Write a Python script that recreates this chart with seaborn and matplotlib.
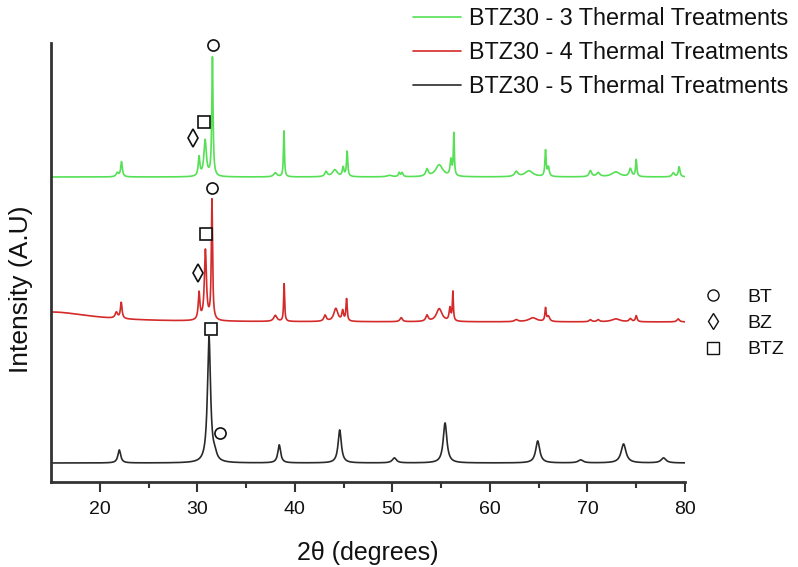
import numpy as np
import pandas as pd
import matplotlib
matplotlib.use("Agg")
import matplotlib.pyplot as plt
from matplotlib.lines import Line2D
import seaborn as sns

# ---- diffraction data: peak tables (2-theta position, height, FWHM) ----
# BTZ30 - 3 thermal treatments
t3_pos = [21.8, 22.23, 30.18, 30.8, 31.55, 38.0, 38.88, 43.2, 44.1, 44.95, 45.36,
          49.7, 50.7, 51.0, 53.55, 54.8, 56.0, 56.3, 62.7, 64.0, 65.7, 66.0,
          70.3, 71.1, 72.9, 74.4, 75.0, 78.8, 79.4]
t3_hgt = [4, 15, 19, 36, 119, 4, 46, 5, 7, 9, 25,
          1.5, 4, 4, 7, 12, 16, 42, 5, 6, 26, 9,
          6, 4, 5, 8, 17, 4, 10]
t3_fwhm = [0.3, 0.2, 0.2, 0.3, 0.15, 0.4, 0.12, 0.3, 0.6, 0.2, 0.15,
           0.6, 0.2, 0.2, 0.3, 0.9, 0.2, 0.12, 0.4, 1.0, 0.15, 0.2,
           0.3, 0.4, 1.0, 0.3, 0.15, 0.3, 0.2]
t3_base = 305

# BTZ30 - 4 thermal treatments
t4_pos = [15.0, 21.7, 22.2, 30.18, 30.83, 31.5, 38.0, 38.9, 43.1, 44.2, 44.9, 45.3,
          50.9, 53.55, 54.8, 55.9, 56.2, 62.7, 64.4, 65.7, 66.0,
          70.3, 71.1, 72.9, 74.4, 75.0, 79.3]
t4_hgt = [10, 6, 16, 27, 70, 120, 6, 38, 6, 13, 10, 22,
          4, 6, 13, 13, 29, 2, 4, 13, 5,
          2, 2, 3, 3, 6, 3]
t4_fwhm = [10.0, 0.3, 0.2, 0.2, 0.25, 0.15, 0.4, 0.12, 0.3, 0.5, 0.2, 0.15,
           0.3, 0.3, 0.7, 0.2, 0.12, 0.4, 1.0, 0.15, 0.3,
           0.3, 0.3, 1.0, 0.3, 0.2, 0.3]
t4_base = 160

# BTZ30 - 5 thermal treatments
t5_pos = [22.0, 31.2, 31.8, 38.4, 44.6, 50.2, 55.4, 64.9, 69.3, 73.7, 77.8]
t5_hgt = [13, 126, 6, 18, 33, 5, 40, 22, 3, 19, 5]
t5_fwhm = [0.35, 0.38, 0.45, 0.35, 0.4, 0.5, 0.45, 0.5, 0.6, 0.6, 0.6]
t5_base = 19

series_names = ["BTZ30 - 3 Thermal Treatments",
                "BTZ30 - 4 Thermal Treatments",
                "BTZ30 - 5 Thermal Treatments"]
series_colors = ["#55e055", "#d42a2a", "#2a2a2a"]

# phase identification symbols placed over the reflections
phase_labels = ["BT", "BZ", "BTZ"]
phase_markers = ["o", "d", "s"]
ann_phase = ["BT", "BTZ", "BZ", "BT", "BTZ", "BZ", "BTZ", "BT"]
ann_x = [31.6, 30.73, 29.6, 31.55, 30.94, 30.08, 31.45, 32.3]
ann_y = [437, 360, 344, 294, 248, 209, 153, 49]

x_ticks = [20, 30, 40, 50, 60, 70, 80]


def profile(tt, pos, hgt, fwhm, base):
    y = np.full_like(tt, float(base))
    for p, h, w in zip(pos, hgt, fwhm):
        g = w / 2.0
        y += h * g ** 2 / ((tt - p) ** 2 + g ** 2)
    return y


two_theta = np.linspace(15, 80, 4000)
frames = []
for name, (pos, hgt, fw, base) in zip(series_names, [
        (t3_pos, t3_hgt, t3_fwhm, t3_base),
        (t4_pos, t4_hgt, t4_fwhm, t4_base),
        (t5_pos, t5_hgt, t5_fwhm, t5_base)]):
    frames.append(pd.DataFrame({"two_theta": two_theta,
                                "intensity": profile(two_theta, pos, hgt, fw, base),
                                "sample": name}))
df = pd.concat(frames, ignore_index=True)

sns.set_theme(style="white")
plt.rcParams["font.family"] = ["Liberation Sans", "DejaVu Sans"]
plt.rcParams["text.color"] = "#111111"
plt.rcParams["axes.labelcolor"] = "#111111"
plt.rcParams["xtick.labelcolor"] = "#111111"

fig = plt.figure(figsize=(7.98, 5.67), dpi=100)
ax = fig.add_axes([51 / 798, 1 - 482 / 567, (685 - 51) / 798, (482 - 43) / 567])

sns.lineplot(data=df, x="two_theta", y="intensity", hue="sample",
             hue_order=series_names, palette=series_colors,
             linewidth=1.2, ax=ax, legend=False, sort=False)

for lab, mk in zip(phase_labels, phase_markers):
    xs = [x for x, p in zip(ann_x, ann_phase) if p == lab]
    ys = [y for y, p in zip(ann_y, ann_phase) if p == lab]
    ax.plot(xs, ys, linestyle="none", marker=mk, markersize=8 if mk != "d" else 9,
            markerfacecolor="white", markeredgecolor="#111111", markeredgewidth=1.2,
            clip_on=False)

ax.set_xlim(15, 80)
ax.set_ylim(0, 439)
ax.set_xticks(x_ticks)
ax.set_xticks([25, 35, 45, 55, 65, 75], minor=True)
ax.set_yticks([])
ax.tick_params(axis="x", which="major", direction="out", length=7, width=1.5,
               color="#333333", labelsize=14, pad=7, bottom=True)
ax.tick_params(axis="x", which="minor", direction="out", length=4, width=1.5,
               color="#333333", bottom=True)
for side in ["top", "right"]:
    ax.spines[side].set_visible(False)
for side in ["left", "bottom"]:
    ax.spines[side].set_linewidth(2)
    ax.spines[side].set_color("#333333")

ax.set_xlabel("2θ (degrees)", fontsize=18, labelpad=16)
ax.set_ylabel("Intensity (A.U)", fontsize=19)
ax.yaxis.set_label_coords(-0.028, 0.44)

handles = [Line2D([], [], color=c, linewidth=1.2) for c in series_colors]
fig.legend(handles, series_names, loc="upper right", bbox_to_anchor=(1.014, 1.025),
           frameon=False, fontsize=16.8, handlelength=2.05, handletextpad=0.35,
           labelspacing=0.48)

phase_handles = [Line2D([], [], linestyle="none", marker=m, markersize=8,
                        markerfacecolor="white", markeredgecolor="#111111",
                        markeredgewidth=1.0) for m in phase_markers]
fig.legend(phase_handles, phase_labels, loc="center left",
           bbox_to_anchor=(0.859, 0.43), frameon=False, fontsize=14,
           handlelength=1.0, handletextpad=1.3, labelspacing=0.45)

fig.savefig("out.png", dpi=100)
